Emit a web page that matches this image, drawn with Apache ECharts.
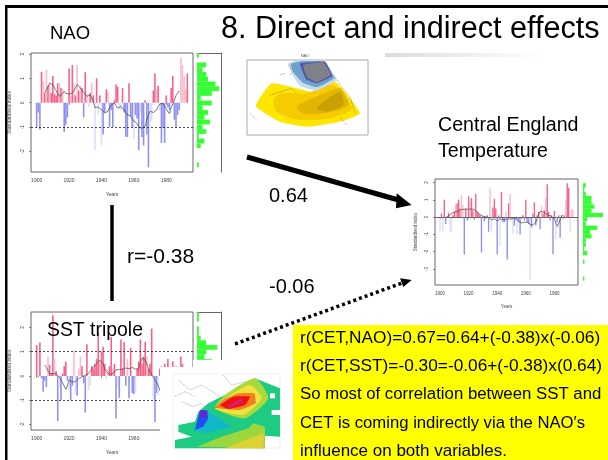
<!DOCTYPE html>
<html><head><meta charset="utf-8">
<style>html,body{margin:0;padding:0;background:#fff}#c{width:608px;height:460px}</style>
<script src="https://cdn.jsdelivr.net/npm/echarts@6/dist/echarts.min.js"></script>
</head><body><div id="c"></div>
<script>
const firstAxisYear = 1897, axisYearCount = 100, firstDataYear = 1900;
const tickYears = [1900, 1920, 1940, 1960, 1980];
const yTicks = [-2, -1, 0, 1, 2];
const cetYTicks = [-3, -2, -1, 0, 1, 2];

const naoValues = [-1,-.4,-1.1,1.27,.9,.4,1.35,.7,.75,.4,1.1,.35,.3,.8,.8,.6,.55,-1.2,-.9,-.6,1.4,.3,1.55,.8,.3,1.55,.5,.7,.6,-.6,1.25,.35,-.2,.4,.8,.3,-1.95,1,-.5,.3,-1.75,-1.3,-.4,.55,.45,-1,-.3,-1,.1,.75,.65,-.25,-.3,.6,-.4,-1.4,-1.4,.8,-.55,-1,-1.5,-.5,-.65,-1.95,-.4,-1.4,-1.75,.1,-1.3,-2.65,-.8,-.75,.5,1.2,.55,.7,-.3,-1.65,-1.05,-1.65,.3,-.2,-.3,.6,1.1,-.7,-1,-.5,-.3,1.85,1.55,1.1,.55,1.2];
const naoPaleYears = [1904,1906,1908,1914,1916,1921,1923,1925,1927,1931,1932,1934,1936,1938,1940,1944,1951,1952,1960,1964,1970,1971,1974,1976,1989,1990,1991,1992];
const naoSmooth = [null,null,null,null,null,.4,.52,.65,.8,.75,.75,.6,.5,.38,.26,.28,.38,.47,.38,.33,.36,.38,.4,.5,.62,.75,.68,.6,.53,.42,.35,.26,.3,.33,.2,.05,-.2,-.2,-.18,-.15,-.28,-.35,-.42,-.4,-.35,-.2,-.1,-.02,0,-.12,-.22,-.2,-.15,-.15,-.3,-.4,-.5,-.5,-.55,-.6,-.75,-.8,-.85,-1,-1.05,-1.05,-1.02,-.95,-.7,-.5,-.35,-.35,-.4,-.42,-.3,-.15,-.05,-.03,-.03,-.1,-.25,-.35,-.45,-.2,-.05,.1,.3,.4,.5];
const naoHistBins = [1.9,1.7,1.5,1.3,1.1,.9,.7,.5,.3,.1,-.1,-.3,-.5,-.7,-.9,-1.1,-1.3,-1.5,-1.7,-1.9,-2.1,-2.3,-2.5,-2.7,-2.9];
const naoHistCounts = [1,0,5,3,5,6,10,12,8,2,8,3,6,4,7,3,5,1,4,2,0,0,0,1,0];

const cetValues = [-.85,.2,-.8,1,-.4,.05,.25,-.85,-.85,.1,.3,.75,.8,1,.5,1.25,.7,-2.17,.5,-.2,1.2,.9,1.1,.4,-.15,1.35,.3,.2,.1,-2.05,.05,-.25,-.1,.1,-.85,1.65,-.9,.55,1.05,.5,-2.15,.1,-1.65,1.45,-.3,-.3,.3,-2.45,.8,1.35,-.1,-1,-.5,-.2,-1,-.3,-1,-.1,.1,-.2,1,-.3,-.4,-3.65,-.6,.2,.85,-.5,.1,.3,-.7,.65,.2,.4,1.1,1.9,.3,-.2,.1,-2.15,.35,-1.3,-.3,.1,-1.2,.1,-.1,.1,.95,1.95,1.7,-.9,.4,.45];
const cetPaleYears = [1900,1902,1907,1908,1911,1915,1916,1921,1935,1936,1942,1946,1949,1951,1954,1963,1971,1974,1981,1988,1991,1992,1993];
const cetSmooth = [null,null,null,null,-.05,0,.05,.1,.2,.25,.3,.25,.3,.38,.42,.45,.45,.44,.45,.43,.46,.45,.47,.47,.44,.38,.3,.22,.15,.1,.05,.03,.02,.03,-.03,-.1,-.17,-.14,-.1,-.18,-.22,-.18,-.1,-.1,-.14,-.2,-.15,-.08,-.1,-.16,-.12,-.06,-.04,-.06,-.12,-.25,-.32,-.35,-.33,-.3,-.28,-.3,-.38,-.42,-.44,-.45,-.44,-.3,-.1,.15,.33,.38,.3,.2,.2,.2,.1,.08,.05,.02,-.15,-.35,-.54,-.35,-.15,.05,.1];
const cetHistBins = [2,1.75,1.5,1.25,1,.75,.5,.25,0,-.25,-.5,-.75,-1,-1.25,-1.5,-1.75,-2,-2.25,-2.5,-2.75,-3,-3.25,-3.5,-3.75,-4];
const cetHistCounts = [0,2,1,2,6,6,8,6,14,3,2,10,5,6,2,2,1,3,0,1,0,0,0,1,0];

const sstValues = [1.27,-.05,1.38,-.1,-.65,-.2,-.45,.8,.45,.1,2.5,.7,.2,-1.85,-.5,-1,.1,.4,.6,-.2,-.55,-1,-.4,1.05,-.75,-.8,.3,.8,.4,-.3,-1.5,1.3,-.6,-.4,.4,.3,.5,.7,1.8,.6,1,1.2,.5,-.15,.3,.4,1.6,.3,.5,-1.75,-.4,-.9,1.5,.3,1.4,-.4,.7,-.9,1.15,-.7,-.75,-.7,.3,.6,1.5,.5,.8,1.4,.8,.3,.5,1.95,-.95,-1.9,-.7,-.8,.3,.4,-.3,.5,-.6,.7,-.4,.3,.6,-.5,.4,.2,-.3,.8,.5,-.2];
const sstPaleYears = [1907,1911,1914,1920,1923,1924,1926,1927,1932,1933,1939,1943,1944,1947,1950,1956,1961,1968,1972,1975];
const sstSmooth = [null,null,null,null,null,.45,.35,.2,.1,.08,.1,.06,.08,.05,-.05,-.15,-.23,-.42,-.55,-.4,-.16,-.2,-.25,-.24,-.23,-.18,-.1,-.06,-.03,0,.03,.05,.1,.18,.28,.38,.45,.5,.55,.65,.73,.5,.3,.18,.1,.06,.04,.1,.18,.25,.24,.27,.3,.28,.32,.33,.35,.3,.38,.35,.3,.28,.25,.3,.55,.73,.7,.66,.5,.3,.18,.05,-.05,-.16,-.25,-.4,-.58,-.7];
const sstHistBins = [2.5,2.3,2.1,1.9,1.7,1.5,1.3,1.1,.9,.7,.5,.3,.1,-.1,-.3,-.5,-.7,-.9,-1.1,-1.3,-1.5,-1.7,-1.9,-2.1,-2.3];
const sstHistCounts = [1,1,0,1,1,2,5,11,5,4,8,9,10,9,7,6,4,5,3,2,2,1,1,0,0];

const notes = ['r(CET,NAO)=0.67=0.64+(-0.38)x(-0.06)','r(CET,SST)=-0.30=-0.06+(-0.38)x(0.64)','So most of correlation between SST and','CET is coming indirectly via the NAO\u2032s','influence on both variables.'];
const noteSizes = [17.3,17.3,16.8,16.7,17];

const yearAxis = [];
for (let i = 0; i < axisYearCount; i++) yearAxis.push(firstAxisYear + i);
const lead = firstDataYear - firstAxisYear;

const C = {red:'#f4648a', pink:'#fbbcc9', blue:'#9092ee', pale:'#dcdefb', green:'#33ff33', axis:'#666', text:'#444'};
const grids=[], xAxes=[], yAxes=[], series=[];

function panel(o){
  const g = grids.length;
  grids.push({left:o.x, top:o.y, width:o.w, height:o.h, show:true, borderColor:C.axis, borderWidth:1, backgroundColor:'transparent'});
  const isTick = (i, v) => tickYears.includes(Number(v));
  xAxes.push({gridIndex:g, type:'category', data:yearAxis, boundaryGap:true,
    axisLine:{show:false},
    axisTick:{show:true, alignWithLabel:true, length:2, interval:isTick, lineStyle:{color:'#444',width:.6}},
    axisLabel:{interval:isTick, fontSize:o.fs||5, color:C.text, margin:o.xMargin||6, fontFamily:'Liberation Sans'},
    name:'Years', nameLocation:'middle', nameGap:o.nameGap||20, nameTextStyle:{fontSize:o.fs||5,color:C.text,fontFamily:'Liberation Sans'},
    splitLine:{show:false}});
  yAxes.push({gridIndex:g, type:'value', min:o.min, max:o.max,
    axisLine:{show:false},
    axisTick:{show:true, length:2, customValues:o.ticks, lineStyle:{color:'#444',width:.6}},
    axisLabel:{customValues:o.ticks, rotate:90, fontSize:o.fs||5, color:C.text, margin:6, fontFamily:'Liberation Sans'},
    name:'Standardised index', nameLocation:'middle', nameGap:o.yNameGap||19, nameTextStyle:{fontSize:o.fs||5,color:C.text,fontFamily:'Liberation Sans'},
    splitLine:{show:false}});
  const bars = yearAxis.map((yr,i)=>{
    const v = o.values[i-lead];
    if (v === undefined || v === null) return null;
    const pale = o.pale.includes(yr);
    return {value:v, itemStyle:{color: v>=0 ? (pale?C.pink:C.red) : (pale?C.pale:C.blue)}};
  });
  const smooth = yearAxis.map((yr,i)=>{const v=o.smooth[i-lead]; return v===undefined?null:v;});
  series.push({type:'bar', xAxisIndex:g, yAxisIndex:g, data:bars, barWidth:o.bw, silent:true, animation:false,
    markLine:{silent:true, symbol:'none', label:{show:false}, animation:false, lineStyle:{color:o.refColor||'#222',type:o.refType||[2,2],width:o.refWidth||.8},
      data:o.refs.map(r=>({yAxis:r}))}});
  series.push({type:'line', xAxisIndex:g, yAxisIndex:g, data:smooth, showSymbol:false, silent:true, animation:false,
    lineStyle:{color:'#444',width:.7}, z:3});
}
function hist(o){
  const g = grids.length;
  grids.push({left:o.x, top:o.y, width:o.w, height:o.h, show:false});
  xAxes.push({gridIndex:g, type:'value', min:0, max:o.maxCount, position:'top',
    axisLine:{show:o.box, onZero:false, lineStyle:{color:C.axis,width:1}}, axisTick:{show:false}, axisLabel:{show:false}, splitLine:{show:false}});
  yAxes.push({gridIndex:g, type:'category', data:o.bins, inverse:true, position:'right',
    axisLine:{show:o.box, onZero:false, lineStyle:{color:C.axis,width:1}}, axisTick:{show:false}, axisLabel:{show:false}, splitLine:{show:false}});
  series.push({type:'bar', xAxisIndex:g, yAxisIndex:g, data:o.counts, barWidth:'100%', silent:true, animation:false, itemStyle:{color:C.green}});
}

panel({x:31,y:53,w:162,h:119,min:-2.84,max:2.04,ticks:yTicks,values:naoValues,pale:naoPaleYears,smooth:naoSmooth,refs:[-1],bw:1.6});
hist({x:197,y:53,w:24,h:119,bins:naoHistBins,counts:naoHistCounts,maxCount:13,box:true});
panel({x:435,y:179,w:143,h:106,min:-3.93,max:2.2,ticks:cetYTicks,values:cetValues,pale:cetPaleYears,smooth:cetSmooth,refs:[0],bw:1.4,refColor:'#666',refType:'solid',refWidth:1.2,nameGap:19,yNameGap:17,fs:4.5,xMargin:6});
hist({x:583,y:179,w:20,h:106,bins:cetHistBins,counts:cetHistCounts,maxCount:14,box:false});
panel({x:31,y:312,w:162,h:118,min:-2.22,max:2.63,ticks:yTicks,values:sstValues,pale:sstPaleYears,smooth:sstSmooth,refs:[1,-1],bw:1.6});
hist({x:197,y:312,w:24,h:118,bins:sstHistBins,counts:sstHistCounts,maxCount:13,box:true});

/* ---- slide furniture and inset maps (pictures in the original slide) ---- */
const els=[];
const Z=100;
const rect=(x,y,w,h,fill,z)=>els.push({type:'rect',shape:{x,y,width:w,height:h},style:{fill},z:z||Z,silent:true});
const txt=(t,x,y,size,extra)=>els.push({type:'text',x,y,style:Object.assign({text:t,fontSize:size,fontFamily:'Liberation Sans',fill:'#000',textVerticalAlign:'middle',textBaseline:'middle'},extra||{}),z:Z+20,silent:true});
const poly=(pts,fill,ox,oy,smooth,z)=>els.push({type:'polygon',shape:{points:pts.map(p=>[ox+p[0]/3,oy+p[1]/3]),smooth:smooth||0},style:{fill},z:z||Z+2,silent:true});
const pline=(pts,ox,oy,stroke,w,dash,z)=>els.push({type:'polyline',shape:{points:pts.map(p=>[ox+p[0]/3,oy+p[1]/3])},style:{stroke,lineWidth:w,lineDash:dash||null,fill:null},z:z||Z+5,silent:true});

rect(5,5,603,3,'#000');
rect(5,5,2.5,455,'#000');
els.push({type:'rect',shape:{x:385,y:53,width:160,height:4},style:{fill:{type:'linear',x:0,y:0,x2:1,y2:0,colorStops:[{offset:0,color:'#dcdcdc'},{offset:1,color:'#ffffff'}]}},z:Z,silent:true});

txt('8. Direct and indirect effects',221,30,30.6);
txt('NAO',50,34,18.5);
txt('Central England',438,126,19.6);
txt('Temperature',438,152,19.6);
txt('0.64',269,196,20);
txt('r=-0.38',127,257,21);
txt('-0.06',269,287,20);

/* arrows */
els.push({type:'line',shape:{x1:247,y1:157,x2:402,y2:201},style:{stroke:'#000',lineWidth:5},z:Z+3,silent:true});
poly([[920,130],[965,165],[918,175]],'#000',90,150,0,Z+3);
els.push({type:'line',shape:{x1:112,y1:205,x2:112,y2:301},style:{stroke:'#000',lineWidth:3.5},z:Z+3,silent:true});
els.push({type:'line',shape:{x1:235,y1:344,x2:402,y2:283},style:{stroke:'#000',lineWidth:3.5,lineDash:[3,3]},z:Z+3,silent:true});
poly([[930,385],[965,390],[940,411]],'#000',90,150,0,Z+3);

/* NAO pattern inset */
els.push({type:'rect',shape:{x:247,y:60,width:121,height:75},style:{fill:'#fff',stroke:'#aaa',lineWidth:1},z:Z+1,silent:true});
const mx=240,my=50;
poly([[48,168],[95,100],[170,115],[215,125],[285,95],[360,190],[300,215],[200,230],[120,215]],'#ffe600',mx,my,.15);
poly([[100,150],[125,130],[200,130],[280,105],[335,175],[270,205],[180,210],[110,185]],'#f6cc00',mx,my,.25);
poly([[170,170],[240,135],[300,115],[325,165],[255,190],[190,190]],'#e2b600',mx,my,.25);
poly([[230,175],[300,125],[310,165],[260,185]],'#c8a000',mx,my,.25);
poly([[145,40],[180,30],[255,35],[290,90],[230,122],[180,108],[155,70]],'#c4dcee',mx,my,.1);
poly([[152,42],[185,33],[255,35],[282,85],[232,112],[188,98],[162,70]],'#70a0cc',mx,my,.1);
poly([[180,40],[255,35],[277,78],[230,100],[198,88]],'#5858a8',mx,my,.1);
poly([[190,45],[250,37],[272,75],[230,96],[202,82]],'#808088',mx,my,.1);
pline([[120,75],[135,70]],mx,my,'#333',.5,[1,1]);
pline([[90,135],[125,125],[155,115],[170,130]],mx,my,'#333',.5,[1,1]);
pline([[30,190],[45,205]],mx,my,'#333',.5,[1,1]);
pline([[145,45],[160,65],[150,75]],mx,my,'#333',.5,[1,1]);
pline([[280,75],[305,110],[330,140],[345,190]],mx,my,'#333',.5,[1,1]);
pline([[300,200],[320,225]],mx,my,'#333',.5,[1,1]);
txt('NAO',305,56,4,{fill:'#555',textAlign:'center'});

/* SST inset: white cover then map */
rect(160,367,133,93,'#fff',Z);
rect(193,360,100,107,'#fff',Z);
const sx=165,sy=365;
els.push({type:'rect',shape:{x:173,y:374,width:107,height:74},style:{fill:'#fff',stroke:'#ddd',lineWidth:.5},z:Z+1,silent:true});
poly([[130,115],[180,90],[270,40],[345,70],[345,215],[300,212],[300,250],[30,250],[30,225],[80,215],[40,200],[40,180],[90,170],[100,140]],'#1ecb82',sx,sy);
poly([[95,245],[170,215],[250,190],[265,175],[300,185],[300,250]],'#9ad63c',sx,sy);
poly([[180,250],[240,225],[296,205],[296,250]],'#dcd234',sx,sy);
poly([[180,90],[270,40],[310,100],[240,160],[150,130]],'#a8da3e',sx,sy,.2);
poly([[190,95],[255,60],[290,100],[235,150],[150,130]],'#f2e240',sx,sy,.2);
poly([[175,105],[220,85],[268,85],[272,115],[225,135],[150,128]],'#f08020',sx,sy,.1);
poly([[165,120],[205,95],[255,95],[240,120],[190,132]],'#f01010',sx,sy,.1);
poly([[185,125],[230,100],[235,108],[195,128]],'#d02080',sx,sy);
poly([[100,175],[125,135],[200,185],[120,205],[85,195]],'#10b8c8',sx,sy);
poly([[90,195],[105,135],[125,135],[130,160],[115,185]],'#2050f0',sx,sy);
poly([[103,155],[110,138],[128,138],[125,158]],'#7020d0',sx,sy);
rect(165+320/3,365+135/3,25/3,15/3,'#fff',Z+3);
rect(165+315/3,365+85/3,15/3,15/3,'#fff',Z+3);
pline([[40,45],[75,75],[110,60],[150,85],[170,100]],sx,sy,'#555',.5,[1,1]);
pline([[50,110],[85,125],[110,115],[125,130]],sx,sy,'#555',.5,[1,1]);
pline([[175,30],[200,60],[240,50]],sx,sy,'#555',.5,[1,1]);
pline([[30,95],[60,80],[90,95]],sx,sy,'#555',.5,[1,1]);
txt('SST tripole',47,331,19.4);

/* yellow text panel */
rect(293,325,315,135,'#ffff00',Z);
notes.forEach((t,i)=>txt(t,300,338+i*28.4,noteSizes[i]));

const chart=echarts.init(document.getElementById('c'),null,{renderer:'canvas'});
chart.setOption({animation:false,backgroundColor:'#fff',grid:grids,xAxis:xAxes,yAxis:yAxes,series:series,graphic:{elements:els}});
</script></body></html>
